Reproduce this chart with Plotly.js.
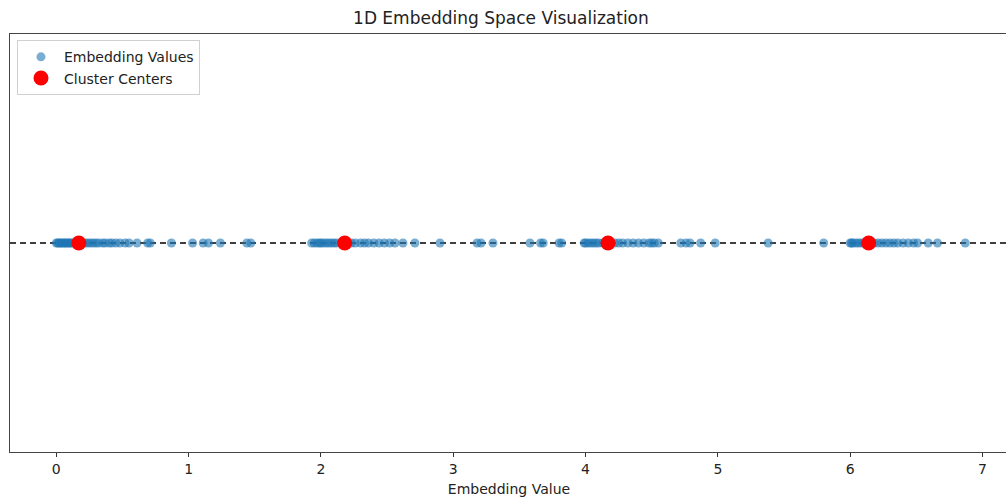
<!DOCTYPE html>
<html>
<head>
<meta charset="utf-8">
<script src="https://cdn.plot.ly/plotly-3.0.1.min.js"></script>
<style>
html,body{margin:0;padding:0;overflow:hidden;background:#fff;}
#chart{width:1012px;height:500px;}
</style>
</head>
<body>
<div id="chart"></div>
<script>
// Embedding values
const cluster0 = [0.00,0.01,0.02,0.03,0.04,0.05,0.06,0.07,0.08,0.09,0.10,0.11,0.12,0.14,0.15,0.17,0.18,0.20,0.22,0.24,0.26,0.28,0.30,0.32,0.35,0.37,0.40,0.42,0.45,0.48,0.52,0.55,0.61,0.69,0.71,0.87,1.03,1.11,1.15,1.24,1.44,1.47];
const cluster1 = [1.93,1.95,1.97,1.99,2.00,2.02,2.04,2.06,2.08,2.10,2.12,2.15,2.18,2.20,2.23,2.26,2.30,2.33,2.36,2.40,2.44,2.48,2.52,2.56,2.62,2.71,2.90,3.18,3.21,3.30];
const cluster2 = [3.58,3.66,3.68,3.80,3.82,3.99,4.00,4.02,4.04,4.06,4.08,4.10,4.13,4.16,4.19,4.22,4.25,4.28,4.32,4.36,4.40,4.44,4.48,4.50,4.52,4.55,4.72,4.76,4.79,4.87,4.98,5.38,5.80];
const cluster3 = [6.00,6.01,6.02,6.04,6.06,6.08,6.10,6.12,6.15,6.18,6.21,6.24,6.27,6.30,6.33,6.36,6.40,6.44,6.48,6.51,6.59,6.66,6.87];
const centers = [0.17,2.18,4.17,6.14];
const xTicks = [0,1,2,3,4,5,6,7];

const embeddings = cluster0.concat(cluster1, cluster2, cluster3);
const xMin = -0.35, xMax = 7.193;

const font = "DejaVu Sans, sans-serif";

const traces = [
  {
    type: 'scatter', mode: 'markers', name: 'Embedding Values',
    x: embeddings, y: embeddings.map(() => 0),
    marker: {color: '#1f77b4', size: 9, opacity: 0.6}
  },
  {
    type: 'scatter', mode: 'markers', name: 'Cluster Centers',
    x: centers, y: centers.map(() => 0),
    marker: {color: '#ff0000', size: 15}
  }
];

const layout = {
  width: 1012, height: 500,
  margin: {l: 10, r: 4, t: 34, b: 48},
  paper_bgcolor: '#fff', plot_bgcolor: '#fff',
  font: {family: font, size: 14, color: '#222'},
  title: {text: '1D Embedding Space Visualization', font: {family: font, size: 17, color: '#222'}, x: 0.495, xanchor: 'center', y: 0.963, yanchor: 'middle'},
  showlegend: true,
  legend: {x: 0.007, y: 0.985, xanchor: 'left', yanchor: 'top', bgcolor: 'rgba(255,255,255,0.8)', bordercolor: '#d0d0d0', borderwidth: 1, font: {family: font, size: 14, color: '#222'}, itemsizing: 'trace', itemwidth: 36, tracegroupgap: 0},
  xaxis: {
    range: [xMin, xMax], tickvals: xTicks, ticktext: xTicks.map(String),
    ticks: 'outside', ticklen: 4, tickcolor: '#333', showgrid: false, zeroline: false,
    showline: true, linecolor: '#444', linewidth: 1, mirror: true,
    tickfont: {family: font, size: 14, color: '#222'},
    title: {text: 'Embedding Value', font: {family: font, size: 14, color: '#222'}, standoff: 8}
  },
  yaxis: {
    range: [-1, 1], showticklabels: false, ticks: '', showgrid: false, zeroline: false,
    showline: true, linecolor: '#444', linewidth: 1, mirror: true
  },
  shapes: [{
    type: 'line', xref: 'paper', x0: 0, x1: 1, yref: 'y', y0: 0, y1: 0,
    line: {color: '#000', width: 1.6, dash: '6px,4px'}, layer: 'below'
  }]
};

Plotly.newPlot('chart', traces, layout, {displayModeBar: false, responsive: false});
</script>
</body>
</html>
